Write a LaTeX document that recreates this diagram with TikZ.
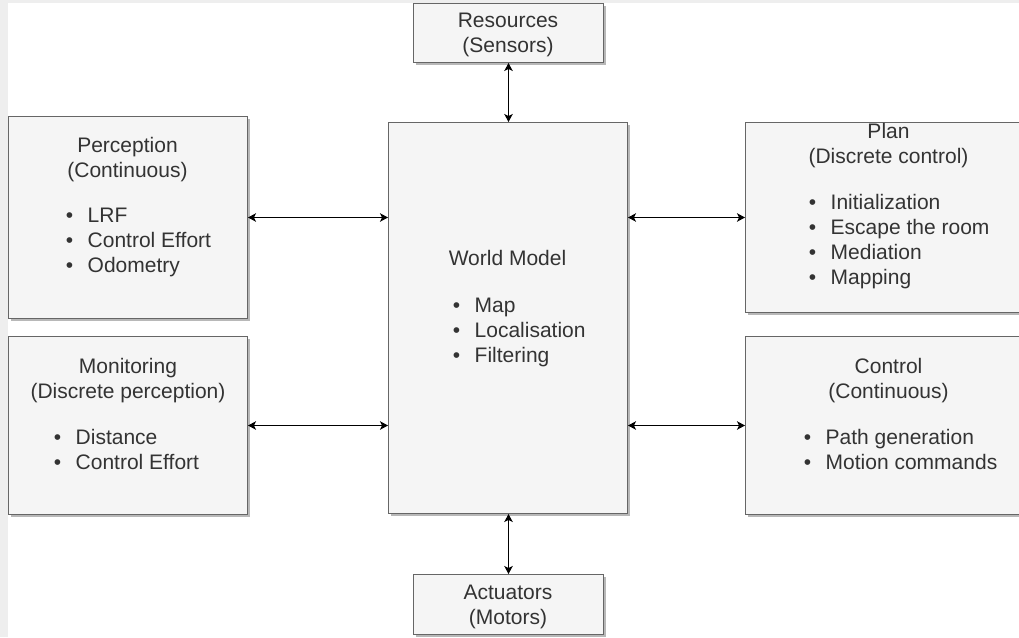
\documentclass[tikz,border=0pt]{standalone}
\usepackage{fontspec}
\setmainfont{Liberation Sans}
\usetikzlibrary{arrows.meta,shadows}
\definecolor{boxfill}{HTML}{F5F5F5}
\definecolor{boxline}{HTML}{666666}
\definecolor{txtcol}{HTML}{333333}
\definecolor{band}{HTML}{EEEEEE}
\tikzset{
  box/.style={draw=boxline, fill=boxfill, line width=1pt, inner sep=0pt,
    drop shadow={shadow xshift=2.5pt, shadow yshift=-2.5pt, fill=black!28, opacity=1}},
  txt/.style={text=txtcol, inner sep=0pt, font=\fontsize{21}{25}\selectfont},
  arr/.style={line width=1pt, draw=black, {Stealth[length=8pt,width=8.5pt,inset=2pt]}-{Stealth[length=8pt,width=8.5pt,inset=2pt]}}
}
\newcommand{\bul}{\llap{•\hspace{14.5pt}}}
\begin{document}
\begin{tikzpicture}[x=1pt,y=-1pt]
\clip (0,0) rectangle (1019,637);
\fill[white] (0,0) rectangle (1019,637);
\fill[band] (0,0) rectangle (1019,3);
\fill[band] (0,0) rectangle (7.5,637);

% boxes
\node[box, anchor=north west, minimum width=239pt, minimum height=202pt] (perc) at (8,116) {};
\node[box, anchor=north west, minimum width=239pt, minimum height=178pt] (mon) at (8,336) {};
\node[box, anchor=north west, minimum width=239pt, minimum height=391pt] (wm) at (388,122) {};
\node[box, anchor=north west, minimum width=287pt, minimum height=190pt] (plan) at (745,122) {};
\node[box, anchor=north west, minimum width=287pt, minimum height=178pt] (ctrl) at (745,336) {};
\node[box, anchor=north west, minimum width=190pt, minimum height=59pt] (res) at (413,3) {};
\node[box, anchor=north west, minimum width=190pt, minimum height=60pt] (act) at (413,574) {};

% titles
\node[txt, anchor=base] (percT) at (127.5,152.5) {\begin{tabular}[t]{@{}c@{}}Perception\\(Continuous)\end{tabular}};
\node[txt, anchor=base] (monT) at (128,373.5) {\begin{tabular}[t]{@{}c@{}}Monitoring\\(Discrete perception)\end{tabular}};
\node[txt, anchor=base] (wmT) at (507.5,265) {World Model};
\node[txt, anchor=base] (planT) at (888.5,138) {\begin{tabular}[t]{@{}c@{}}Plan\\(Discrete control)\end{tabular}};
\node[txt, anchor=base] (ctrlT) at (888.5,373.5) {\begin{tabular}[t]{@{}c@{}}Control\\(Continuous)\end{tabular}};
\node[txt, anchor=base] (resT) at (508,27.5) {\begin{tabular}[t]{@{}c@{}}Resources\\(Sensors)\end{tabular}};
\node[txt, anchor=base] (actT) at (508,599) {\begin{tabular}[t]{@{}c@{}}Actuators\\(Motors)\end{tabular}};

% lists
\node[txt, anchor=base west] (percL) at (87.5,222.5) {\begin{tabular}[t]{@{}l@{}}\bul LRF\\\bul Control Effort\\\bul Odometry\end{tabular}};
\node[txt, anchor=base west] (monL) at (75.5,444) {\begin{tabular}[t]{@{}l@{}}\bul Distance\\\bul Control Effort\end{tabular}};
\node[txt, anchor=base west] (wmL) at (474.5,312) {\begin{tabular}[t]{@{}l@{}}\bul Map\\\bul Localisation\\\bul Filtering\end{tabular}};
\node[txt, anchor=base west] (planL) at (830.5,209) {\begin{tabular}[t]{@{}l@{}}\bul Initialization\\\bul Escape the room\\\bul Mediation\\\bul Mapping\end{tabular}};
\node[txt, anchor=base west] (ctrlL) at (825.5,444) {\begin{tabular}[t]{@{}l@{}}\bul Path generation\\\bul Motion commands\end{tabular}};

% connectors
\draw[arr] (perc.east) -- (perc.east -| wm.west);
\draw[arr] (mon.east) -- (mon.east -| wm.west);
\draw[arr] (plan.west -| wm.east) -- (plan.west);
\draw[arr] (ctrl.west -| wm.east) -- (ctrl.west);
\draw[arr] (res.south) -- (res.south |- wm.north);
\draw[arr] (act.north |- wm.south) -- (act.north);
\end{tikzpicture}
\end{document}
